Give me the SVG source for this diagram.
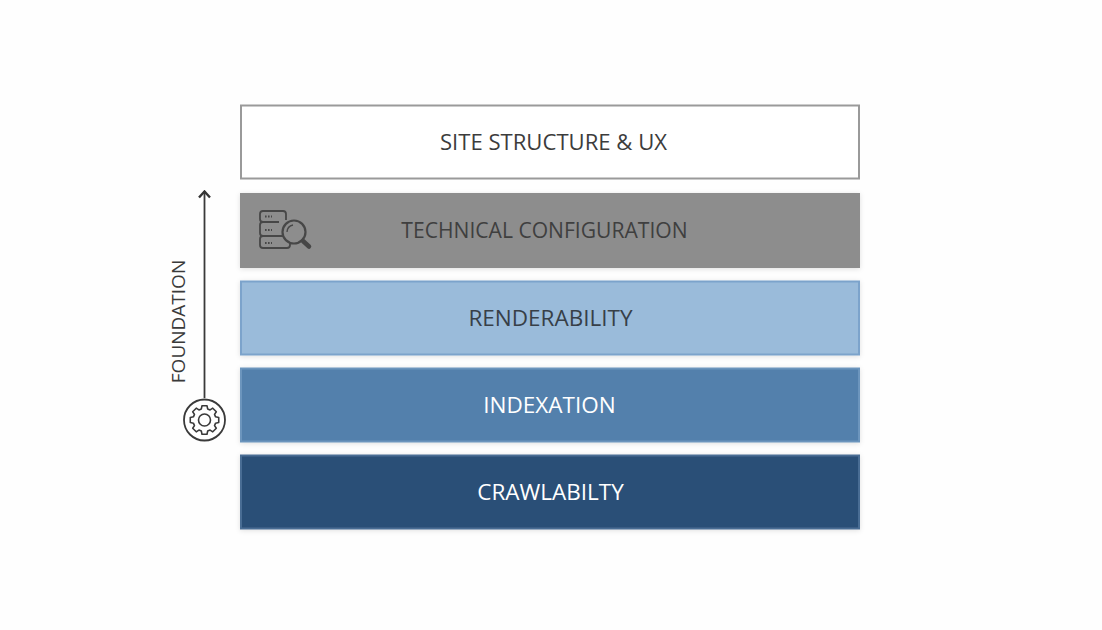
<svg xmlns="http://www.w3.org/2000/svg" width="1102" height="630" viewBox="0 0 1102 630">
<defs>
<filter id="sh" x="-3%" y="-15%" width="106%" height="130%"><feDropShadow dx="0" dy="1" stdDeviation="2.500" flood-color="#000" flood-opacity="0.12"/></filter>
<marker id="ah" viewBox="0 0 10 14" refX="9" refY="7" markerWidth="10" markerHeight="14" markerUnits="userSpaceOnUse" orient="auto"><path d="M2.500 1.500 L8.500 7 L2.500 12.500" fill="none" stroke="#333" stroke-width="2.400"/></marker>
</defs>
<style>
text{font-family:"Open Sans","Liberation Sans",sans-serif;font-size:22.500px;text-anchor:middle}
.ic{fill:none;stroke:#474747;stroke-width:1.800}
</style>
<rect width="1102" height="630" fill="#fefefe"/>
<g id="connectors"><line x1="204.500" y1="398" x2="204.500" y2="191" stroke="#3a3a3a" stroke-width="1.800" marker-end="url(#ah)"/></g>
<g id="node-site"><rect x="241" y="105.500" width="618" height="73" fill="#fff" stroke="#9a9a9a" stroke-width="2"/><text x="553.500" y="150" fill="#3c3c3c" style="font-size:22.100px">SITE STRUCTURE &amp; UX</text></g>
<g id="node-technical"><rect x="240" y="193" width="620" height="75" fill="#8d8d8d" filter="url(#sh)"/><text x="544.500" y="238" fill="#3f3f3f" style="font-size:21.100px">TECHNICAL CONFIGURATION</text>
<g class="ic"><path d="M283 211h-20a3 3 0 0 0-3 3v5a3 3 0 0 0 3 3h16M279 222h-16a3 3 0 0 0-3 3v8a3 3 0 0 0 3 3h20M283 211a3 3 0 0 1 3 3v6M283 236h-20a3 3 0 0 0-3 3v6a3 3 0 0 0 3 3h24a3 3 0 0 0 3-3v-2"/><circle cx="294" cy="232" r="11.500" stroke-width="2.200"/><path d="M287 232a7.500 7.500 0 0 1 6-7" stroke-width="1.300"/><path d="M303 241l6 5.500" stroke-width="4.500" stroke-linecap="round"/><path d="M265 216.500h7M265 230h7M265 243h7" stroke-dasharray="1.600 1.400"/></g></g>
<g id="node-render"><rect x="241" y="281.500" width="618" height="73" fill="#9abbda" stroke="#7ba3cb" stroke-width="2" filter="url(#sh)"/><text x="550.500" y="326" fill="#373f48">RENDERABILITY</text></g>
<g id="node-index"><rect x="241" y="368.500" width="618" height="73" fill="#5380ac" stroke="#6c95bd" stroke-width="2" filter="url(#sh)"/><text x="549.500" y="412.500" fill="#fff">INDEXATION</text></g>
<g id="node-crawl"><rect x="241" y="455.500" width="618" height="73" fill="#2a4f77" stroke="#4a6d94" stroke-width="2" filter="url(#sh)"/><text x="550.500" y="499.500" fill="#fff">CRAWLABILTY</text></g>
<g id="node-foundation"><text transform="translate(185 321.500) rotate(-90)" style="font-size:19px" fill="#3a3a3a">FOUNDATION</text>
<circle cx="204.500" cy="420" r="20.500" fill="#fff" stroke="#3a3a3a" stroke-width="1.800"/>
<circle cx="204.500" cy="420" r="6" fill="none" stroke="#3a3a3a" stroke-width="1.600"/>
<path fill="none" stroke="#3a3a3a" stroke-width="1.700" stroke-linejoin="round" d="M201.800 407.500h5.400l.7 3.400 2.600 1.100 2.900-1.900 3.800 3.800-1.900 2.900 1.100 2.600 3.400.7v5.400l-3.400.7-1.100 2.600 1.900 2.900-3.800 3.800-2.900-1.900-2.600 1.100-.7 3.400h-5.400l-.7-3.400-2.600-1.100-2.900 1.900-3.800-3.800 1.900-2.900-1.100-2.600-3.400-.7v-5.400l3.400-.7 1.100-2.600-1.900-2.900 3.800-3.800 2.900 1.900 2.600-1.100z" transform="translate(204.500 420) scale(.93) translate(-204.500 -422.800)"/></g>
</svg>
